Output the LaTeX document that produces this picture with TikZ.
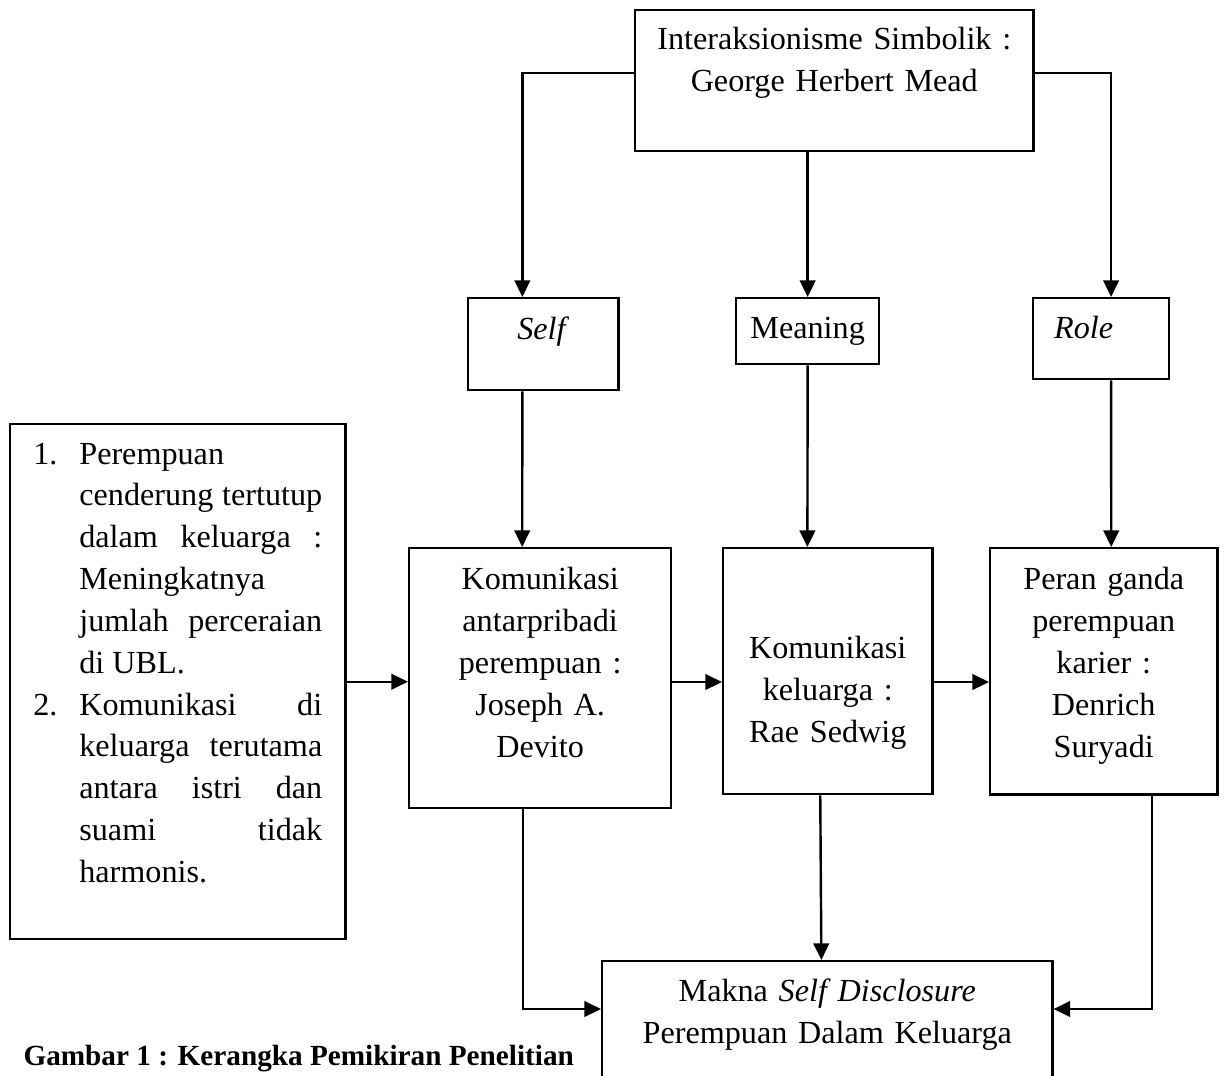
\documentclass[tikz,border=0pt]{standalone}
\usepackage{fontspec}
\setmainfont{Liberation Serif}
\usetikzlibrary{positioning,arrows.meta}
\hbadness=10000

\begin{document}
\begin{tikzpicture}[
x=0.373pt, y=-0.373pt,
>={Triangle[length=6.2pt,width=5.8pt]},
rec/.style={
    rectangle,
    draw=black,
    align=center,
    anchor=north west,
    inner sep=0pt,
    line width=0.9pt,
    font=\fontsize{12pt}{15.7pt}\selectfont
    },
conn/.style={
    line width=0.9pt,
    draw=black}
]
\useasboundingbox (0,0) rectangle (1225,1075);
\node(teori) [rec,text width=148.5pt,text height=14.5pt,text depth=38.1pt] at (634,9) {Interaksionisme Simbolik :\\ George Herbert Mead};
\node(self) [rec,text width=56pt,text height=15.3pt,text depth=19pt] at (467,297) {\textit{Self}};
\node(meaning) [rec,text width=53.3pt,text height=14.9pt,text depth=9.7pt] at (735,297) {Meaning};
\node(role) [rec,align=left,inner xsep=7.8pt,text width=35.1pt,text height=14.9pt,text depth=15.3pt] at (1032,297) {\textit{Role}};
\node(kiri) [rec,align=justify,inner xsep=8.6pt,text width=107.8pt,text height=14.9pt,text depth=177.2pt,
    font=\fontsize{12pt}{15.6pt}\selectfont] at (9,423)
    {\makebox[17.2pt][l]{1.}\hangindent=17.2pt\hangafter=1 Perempuan\linebreak cenderung tertutup\linebreak dalam keluarga :\linebreak Meningkatnya\linebreak jumlah perceraian\linebreak di UBL.\par
     \makebox[17.2pt][l]{2.}\hangindent=17.2pt\hangafter=1 Komunikasi di\linebreak keluarga terutama\linebreak antara istri dan\linebreak suami tidak\linebreak harmonis.\par};
\node(antar) [rec,text width=97.7pt,text height=15.3pt,text depth=81.7pt] at (408,547) {Komunikasi\\ antarpribadi\\ perempuan :\\ Joseph A.\\ Devito};
\node(kel) [rec,text width=78pt,text height=41pt,text depth=50.7pt] at (722,547) {Komunikasi\\ keluarga :\\ Rae Sedwig};
\node(peran) [rec,text width=84.7pt,text height=15.3pt,text depth=76.5pt] at (989,547) {Peran ganda\\ perempuan\\ karier :\\ Denrich\\ Suryadi};
\node(makna) [rec,text width=167.9pt,text height=14.9pt,text depth=33.6pt] at (601,960) {Makna \textit{Self Disclosure}\\ Perempuan Dalam Keluarga};
\node(judul) [anchor=base west,inner sep=0pt,font=\fontsize{10.9pt}{13pt}\selectfont\bfseries] at (23,1065) {Gambar 1 : Kerangka Pemikiran Penelitian};
% rows of the connectors
\coordinate (toprow) at (0,73);
\coordinate (midrow) at (0,682);
\coordinate (lowrow) at (0,1009);
\draw[conn,->] (teori.west |- toprow) -| ([xshift=-7.8pt]self.north);
\draw[conn,->] (teori.east |- toprow) -| ([xshift=3.7pt]role.north);
\draw[conn,->] (meaning.north |- teori.south) -- (meaning.north);
\draw[conn,->] ([xshift=-7.8pt]self.south) -- ([xshift=-6.7pt]antar.north);
\draw[conn,->] (meaning.south) -- ([xshift=-7.6pt]kel.north);
\draw[conn,->] ([xshift=3.7pt]role.south) -- ([xshift=2.8pt]peran.north);
\draw[conn,->] (kiri.east) -- (kiri.east -| antar.west);
\draw[conn,->] (antar.east |- midrow) -- (kel.west |- midrow);
\draw[conn,->] (kel.east |- midrow) -- (peran.west |- midrow);
\draw[conn,->] ([xshift=-6.3pt]antar.south) |- (makna.west |- lowrow);
\draw[conn,->] ([xshift=-2.8pt]kel.south) -- ([xshift=-2.2pt]makna.north);
\draw[conn,->] ([xshift=18.1pt]peran.south) |- (makna.east |- lowrow);
\end{tikzpicture}
\end{document}
